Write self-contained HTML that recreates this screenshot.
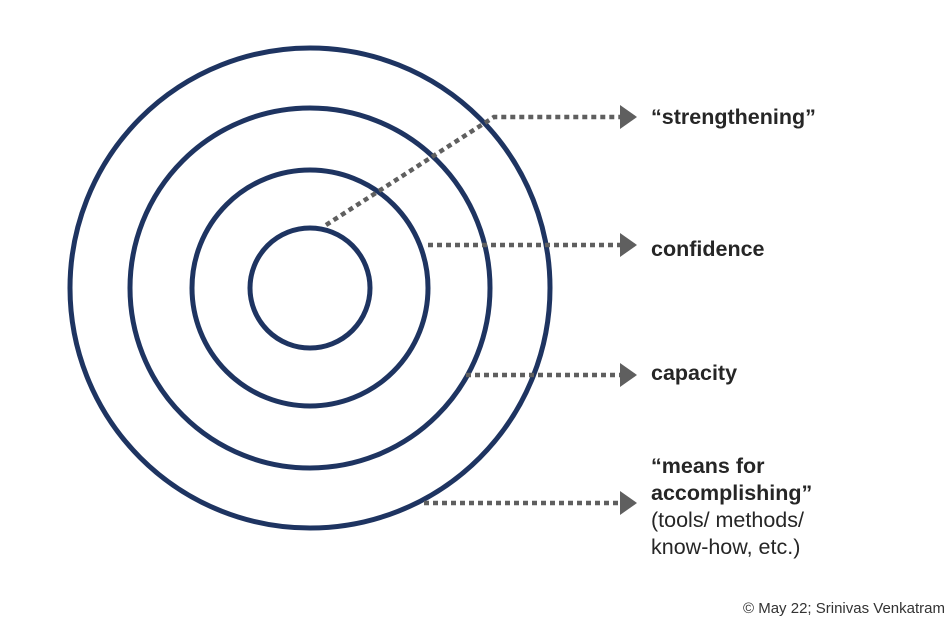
<!DOCTYPE html>
<html><head><meta charset="utf-8"><style>
html,body{margin:0;padding:0;background:#fff;}
body{width:952px;height:620px;position:relative;overflow:hidden;font-family:"Liberation Sans",Arial,sans-serif;}
.t{position:absolute;left:651px;color:#262626;font-size:21.5px;line-height:27px;}
b{font-weight:bold;}
</style></head><body>
<svg width="952" height="620" style="position:absolute;left:0;top:0">
<g fill="none" stroke="#1e3461" stroke-width="5">
<circle cx="310" cy="288" r="60"/>
<circle cx="310" cy="288" r="118"/>
<circle cx="310" cy="288" r="180"/>
<circle cx="310" cy="288" r="240"/>
</g>
<g stroke="#5f5f5f" stroke-width="4.5" stroke-dasharray="5 4" fill="none">
<polyline points="326,225 494,117 620,117"/>
<line x1="428" y1="245" x2="620" y2="245"/>
<line x1="466" y1="375" x2="620" y2="375"/>
<line x1="424" y1="503" x2="620" y2="503"/>
</g>
<g fill="#5f5f5f">
<polygon points="620,105 637,117 620,129"/>
<polygon points="620,233 637,245 620,257"/>
<polygon points="620,363 637,375 620,387"/>
<polygon points="620,491 637,503 620,515"/>
</g>
</svg>
<div class="t" style="top:104px"><b>“strengthening”</b></div>
<div class="t" style="top:236px"><b>confidence</b></div>
<div class="t" style="top:360px"><b>capacity</b></div>
<div class="t" style="top:453px"><b>“means for<br>accomplishing”</b><br>(tools/ methods/<br>know-how, etc.)</div>
<div style="position:absolute;left:743px;top:600px;font-size:15px;color:#333">© May 22; Srinivas Venkatram</div>
</body></html>
